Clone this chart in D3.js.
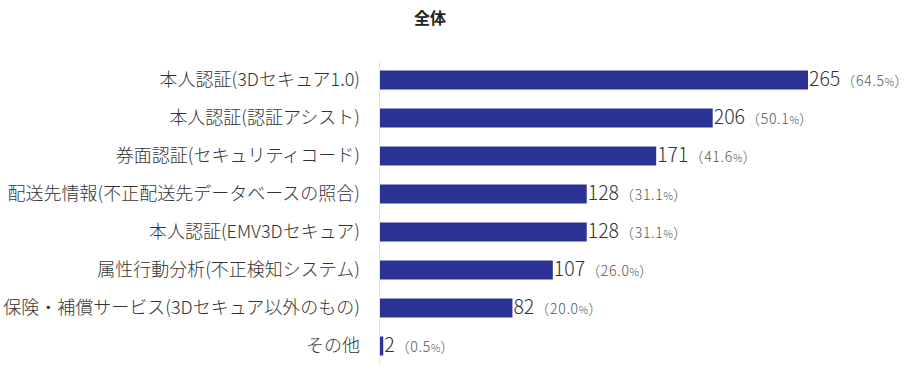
<!DOCTYPE html>
<html><head><meta charset="utf-8">
<script src="https://cdn.jsdelivr.net/npm/d3@7"></script>
<style>body{margin:0;background:#fff;font-family:"Noto Sans CJK JP","Noto Sans",sans-serif;}</style>
</head><body><svg id="c" width="922" height="390"></svg>
<script>
const categories = ["本人認証(3Dセキュア1.0)","本人認証(認証アシスト)","券面認証(セキュリティコード)","配送先情報(不正配送先データベースの照合)","本人認証(EMV3Dセキュア)","属性行動分析(不正検知システム)","保険・補償サービス(3Dセキュア以外のもの)","その他"];
const values = [265,206,171,128,128,107,82,2];
const percents = ["64.5","50.1","41.6","31.1","31.1","26.0","20.0","0.5"];
const title = "全体";

const svg = d3.select("#c");
const x = d3.scaleLinear().domain([0,265]).range([380,808]);
const y = d3.scaleBand().domain(categories).range([61,365]).paddingInner(0.5).paddingOuter(0.25);

svg.append("text").attr("x",430).attr("y",24).attr("text-anchor","middle")
  .attr("font-size",16).attr("font-weight","bold").attr("fill","#222").text(title);

svg.append("line").attr("x1",379.5).attr("x2",379.5).attr("y1",62).attr("y2",365)
  .attr("stroke","#e2e2e2").attr("stroke-width",1);

const yAxis = d3.axisLeft(y).tickSize(0).tickPadding(19);
const ga = svg.append("g").attr("transform","translate(379,0)").call(yAxis);
ga.select(".domain").remove();
ga.selectAll("text").attr("font-size",18).attr("fill","#333").attr("font-weight",300)
  .attr("font-family","'Noto Sans CJK JP',sans-serif");

const rows = categories.map((c,i)=>({c,v:values[i],p:percents[i]}));
svg.selectAll("rect.bar").data(rows).join("rect").attr("class","bar")
  .attr("x",x(0)).attr("y",d=>y(d.c)).attr("width",d=>x(d.v)-x(0)).attr("height",y.bandwidth())
  .attr("fill","#2b3494");

const lab = svg.selectAll("text.val").data(rows).join("text").attr("class","val")
  .attr("x",d=>x(d.v)+1).attr("y",d=>y(d.c)+y.bandwidth()/2).attr("dy","0.36em")
  .attr("font-weight",300);
lab.append("tspan").attr("font-size",19.5).attr("fill","#333").text(d=>d.v);
lab.append("tspan").attr("dx",1).attr("font-size",14).attr("letter-spacing",0.7).attr("fill","#555").text(d=>"（"+d.p);
lab.append("tspan").attr("font-size",10.5).attr("fill","#555").text("%");
lab.append("tspan").attr("font-size",14).attr("fill","#555").text("）");
</script></body></html>
